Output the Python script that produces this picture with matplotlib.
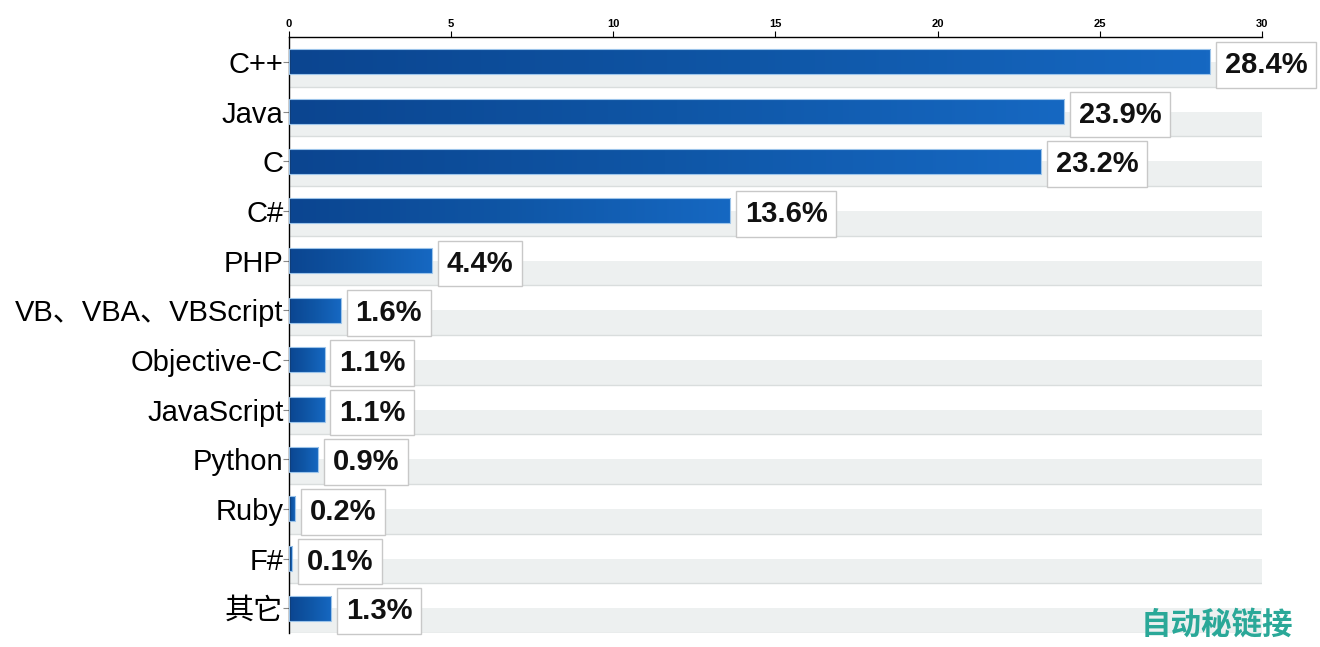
import numpy as np
import matplotlib.pyplot as plt
from matplotlib.colors import LinearSegmentedColormap
from matplotlib.patches import Rectangle

plt.rcParams['font.family'] = ['Liberation Sans', 'Noto Sans CJK SC', 'DejaVu Sans']

languages = ['C++', 'Java', 'C', 'C#', 'PHP', 'VB、VBA、VBScript', 'Objective-C',
             'JavaScript', 'Python', 'Ruby', 'F#', '其它']
shares = [28.4, 23.9, 23.2, 13.6, 4.4, 1.6, 1.1, 1.1, 0.9, 0.2, 0.1, 1.3]
xticks = [0, 5, 10, 15, 20, 25, 30]

fig = plt.figure(figsize=(13.2, 6.47), dpi=100)
ax = fig.add_axes([0.2189, 0.0216, 0.7372, 0.9212])

n = len(languages)

# background stripes: lower half of every row is light gray
for i in range(n):
    ax.add_patch(Rectangle((0, i), 30, 0.5, facecolor='#edf0f0', edgecolor='none', zorder=0))
    ax.axhline(i + 0.5, color='#d9dddd', lw=1, zorder=0.5)

cmap = LinearSegmentedColormap.from_list('bar', ['#0b4590', '#0f56a6', '#1668c2'])
grad = np.linspace(0, 1, 256).reshape(1, -1)
for i, v in enumerate(shares):
    ax.imshow(grad, extent=[0, v, i + 0.25, i - 0.25], aspect='auto', cmap=cmap, zorder=2,
              interpolation='bilinear')
    ax.add_patch(Rectangle((0, i - 0.25), v, 0.5, facecolor='none', edgecolor='#9cc4ea',
                           lw=0.8, zorder=3))
    ax.text(v + 0.45, i, f'{v}%', fontsize=21, fontweight='bold', va='center_baseline',
            ha='left', color='#111111', zorder=4,
            bbox=dict(boxstyle='square,pad=0.3', facecolor='white', edgecolor='#c8c8c8', lw=1))

ax.set_xlim(0, 30)
ax.set_ylim(n - 0.5, -0.5)

ax.set_yticks(range(n))
ax.set_yticklabels(languages, fontsize=21)
ax.tick_params(axis='y', length=4, color='#888888', pad=0)

ax.xaxis.tick_top()
ax.set_xticks(xticks)
ax.set_xticklabels([str(t) for t in xticks], fontsize=8, fontweight='bold')
ax.tick_params(axis='x', length=4, width=0.8, pad=1.5)

ax.spines['right'].set_visible(False)
ax.spines['bottom'].set_visible(False)
ax.spines['top'].set_linewidth(1)
ax.spines['left'].set_linewidth(1)

fig.text(0.98, 0.035, '自动秘链接', fontsize=22, fontweight='bold', style='italic',
         color='#2aa898', ha='right', va='center', family=['Noto Sans CJK SC'])

fig.savefig('out.png', dpi=100)
